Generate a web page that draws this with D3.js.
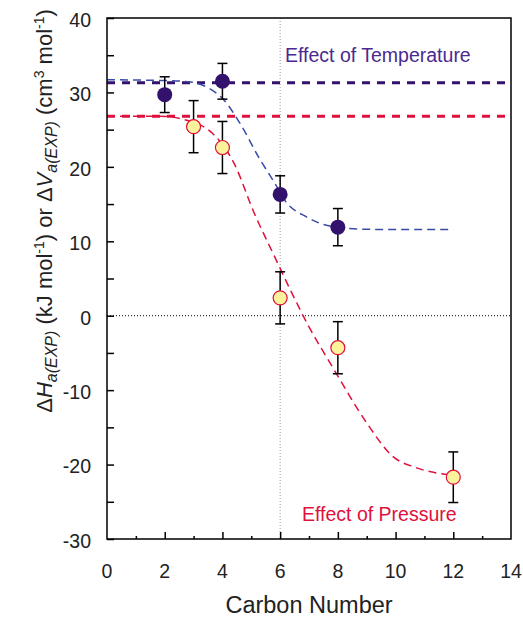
<!DOCTYPE html>
<html>
<head>
  <style>
    body { margin: 0; background: #fff; }
    svg text { font-family: "Liberation Sans", Arial, sans-serif; }
  </style>
</head>
<body>
  <svg id="chart" width="523" height="619"></svg>

  <script src="https://d3js.org/d3.v7.min.js"></script>
  <script>
    // measured points (carbon number, value, error)
    const tempX = [2, 4, 6, 8];
    const tempY = [29.7, 31.5, 16.3, 11.9];
    const tempErr = [2.4, 2.4, 2.5, 2.5];

    const presX = [3, 4, 6, 8, 12];
    const presY = [25.4, 22.6, 2.4, -4.3, -21.7];
    const presErr = [3.5, 3.5, 3.5, 3.5, 3.4];

    // reference levels (dashed horizontals)
    const tempLevel = 31.3;
    const presLevel = 26.8;

    // fitted curves
    const tempFitX = [0, 2.0, 2.9, 3.6, 4.0, 4.6, 5.3, 5.8, 6.2, 6.9, 7.8, 9.2, 12];
    const tempFitY = [31.7, 31.6, 31.4, 30.4, 29.2, 25.9, 21.0, 17.9, 15.3, 13.3, 12.0, 11.6, 11.6];
    const presFitX = [0, 1.8, 2.9, 3.6, 4.4, 5.1, 5.8, 6.3, 7.0, 7.8, 9.0, 9.9, 10.7, 11.9];
    const presFitY = [26.8, 26.8, 26.1, 24.7, 20.5, 13.8, 8.0, 3.9, -1.5, -6.8, -14.4, -18.9, -20.4, -21.4];

    const xTicks = [0, 2, 4, 6, 8, 10, 12, 14];
    const yTicks = [40, 30, 20, 10, 0, -10, -20, -30];

    const purple = "#33126e";
    const fitBlue = "#3a4ba6";
    const red = "#e0103c";

    const margin = { top: 18, right: 12, bottom: 80, left: 107 };
    const width = 523 - margin.left - margin.right,
      height = 619 - margin.top - margin.bottom;

    const svg = d3.select("#chart");
    const g = svg.append("g")
      .attr("transform", "translate(" + margin.left + "," + margin.top + ")");

    const x = d3.scaleLinear().domain([0, 14]).range([0, width]);
    const y = d3.scaleLinear().domain([-30, 40]).range([height, 0]);

    // reference dotted lines
    g.append("line")
      .attr("x1", x(6)).attr("x2", x(6))
      .attr("y1", 0).attr("y2", height)
      .attr("stroke", "#999").attr("stroke-width", 1)
      .attr("stroke-dasharray", "1,2");
    g.append("line")
      .attr("x1", 0).attr("x2", width)
      .attr("y1", y(0)).attr("y2", y(0))
      .attr("stroke", "#000").attr("stroke-width", 1)
      .attr("stroke-dasharray", "1,2");

    // thick dashed levels
    [[tempLevel, purple], [presLevel, red]].forEach(function(d) {
      g.append("line")
        .attr("x1", 0).attr("x2", width)
        .attr("y1", y(d[0])).attr("y2", y(d[0]))
        .attr("stroke", d[1]).attr("stroke-width", 3)
        .attr("stroke-dasharray", "8,7");
    });

    // fitted curves
    const line = d3.line()
      .x(d => x(d[0]))
      .y(d => y(d[1]))
      .curve(d3.curveMonotoneX);

    g.append("path")
      .datum(d3.zip(tempFitX, tempFitY))
      .attr("d", line)
      .attr("fill", "none")
      .attr("stroke", fitBlue).attr("stroke-width", 1.5)
      .attr("stroke-dasharray", "8,5");

    g.append("path")
      .datum(d3.zip(presFitX, presFitY))
      .attr("d", line)
      .attr("fill", "none")
      .attr("stroke", red).attr("stroke-width", 1.5)
      .attr("stroke-dasharray", "8,5");

    // error bars
    function errorBars(xs, ys, es) {
      const data = d3.zip(xs, ys, es);
      const eb = g.append("g").attr("stroke", "#000").attr("stroke-width", 1.5);
      eb.selectAll(".v").data(data).join("line")
        .attr("x1", d => x(d[0])).attr("x2", d => x(d[0]))
        .attr("y1", d => y(d[1] + d[2])).attr("y2", d => y(d[1] - d[2]));
      eb.selectAll(".t").data(data).join("line")
        .attr("x1", d => x(d[0]) - 5).attr("x2", d => x(d[0]) + 5)
        .attr("y1", d => y(d[1] + d[2])).attr("y2", d => y(d[1] + d[2]));
      eb.selectAll(".b").data(data).join("line")
        .attr("x1", d => x(d[0]) - 5).attr("x2", d => x(d[0]) + 5)
        .attr("y1", d => y(d[1] - d[2])).attr("y2", d => y(d[1] - d[2]));
    }
    errorBars(tempX, tempY, tempErr);
    errorBars(presX, presY, presErr);

    // points
    g.selectAll(".pt").data(d3.zip(tempX, tempY)).join("circle")
      .attr("cx", d => x(d[0])).attr("cy", d => y(d[1]))
      .attr("r", 7.5)
      .attr("fill", purple);

    g.selectAll(".pp").data(d3.zip(presX, presY)).join("circle")
      .attr("cx", d => x(d[0])).attr("cy", d => y(d[1]))
      .attr("r", 7)
      .attr("fill", "#fbf39c")
      .attr("stroke", red).attr("stroke-width", 1.2);

    // frame
    g.append("rect")
      .attr("x", 0).attr("y", 0)
      .attr("width", width).attr("height", height)
      .attr("fill", "none")
      .attr("stroke", "#000").attr("stroke-width", 1.5);

    // axes, ticks pointing inward
    const yAxis = g.append("g")
      .call(d3.axisRight(y).tickValues(d3.range(-30, 41, 5)).tickSize(7).tickFormat(""));
    yAxis.select(".domain").remove();

    const xMinor = g.append("g")
      .attr("transform", "translate(0," + height + ")")
      .call(d3.axisTop(x).tickValues(d3.range(1, 14, 2)).tickSize(3).tickFormat(""));
    xMinor.select(".domain").remove();
    const xMajor = g.append("g")
      .attr("transform", "translate(0," + height + ")")
      .call(d3.axisTop(x).tickValues(d3.range(2, 14, 2)).tickSize(7).tickFormat(""));
    xMajor.select(".domain").remove();
    g.selectAll(".tick line").attr("stroke-width", 1.5);

    // tick labels
    g.selectAll(".ylab").data(yTicks).join("text")
      .attr("x", -16).attr("y", d => y(d) + 2).attr("dy", "0.35em")
      .attr("text-anchor", "end")
      .attr("font-size", 19.5).attr("fill", "#222")
      .text(d => d);

    g.selectAll(".xlab").data(xTicks).join("text")
      .attr("x", d => x(d)).attr("y", height + 39)
      .attr("text-anchor", "middle")
      .attr("font-size", 19.5).attr("fill", "#222")
      .text(d => d);

    // axis titles
    svg.append("text")
      .attr("x", margin.left + width / 2).attr("y", 613)
      .attr("text-anchor", "middle")
      .attr("font-size", 23.5).attr("fill", "#222")
      .text("Carbon Number");

    const yt = svg.append("text")
      .attr("transform", "translate(52,211) rotate(-90)")
      .attr("text-anchor", "middle")
      .attr("font-size", 22).attr("fill", "#222");
    yt.append("tspan").text("\u0394");
    yt.append("tspan").attr("font-style", "italic").text("H");
    yt.append("tspan").attr("font-style", "italic").attr("font-size", 16).attr("dy", 5).text("a(EXP)");
    yt.append("tspan").attr("dy", -5).text(" (kJ mol");
    yt.append("tspan").attr("font-size", 14).attr("dy", -8).text("-1");
    yt.append("tspan").attr("dy", 8).text(") or \u0394");
    yt.append("tspan").attr("font-style", "italic").text("V");
    yt.append("tspan").attr("font-style", "italic").attr("font-size", 16).attr("dy", 5).text("a(EXP)");
    yt.append("tspan").attr("dy", -5).text(" (cm");
    yt.append("tspan").attr("font-size", 14).attr("dy", -8).text("3");
    yt.append("tspan").attr("dy", 8).text(" mol");
    yt.append("tspan").attr("font-size", 14).attr("dy", -8).text("-1");
    yt.append("tspan").attr("dy", 8).text(")");

    // series labels
    g.append("text")
      .attr("x", 285 - margin.left).attr("y", 61.5 - margin.top)
      .attr("font-size", 19.5).attr("fill", "#4a2a90")
      .text("Effect of Temperature");
    g.append("text")
      .attr("x", 302 - margin.left).attr("y", 521 - margin.top)
      .attr("font-size", 19.5).attr("fill", red)
      .text("Effect of Pressure");
  </script>
</body>
</html>
